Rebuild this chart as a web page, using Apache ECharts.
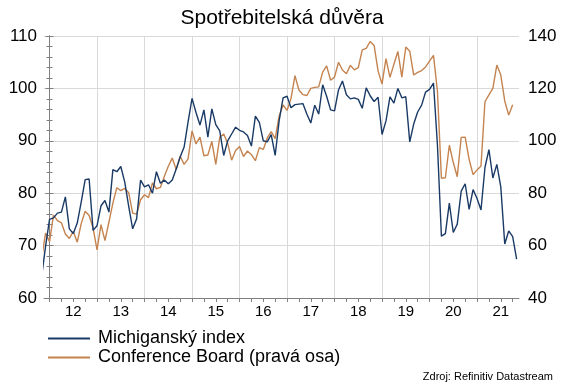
<!DOCTYPE html>
<html>
<head>
<meta charset="utf-8">
<script src="https://cdn.jsdelivr.net/npm/echarts@6/dist/echarts.min.js"></script>
<style>
html,body{margin:0;padding:0;background:#fff;}
#c{width:564px;height:385px;}
</style>
</head>
<body>
<div id="c"></div>
<script>
// Month index: Jan 2012 = 0. Series start at Nov 2011 (index -2).
const startIndex = -2;
// Michigan index, Nov 2011 .. Nov 2021
const michigan = [
  64.1, 69.9,
  75.0, 75.3, 76.2, 76.4, 79.3, 73.2, 72.3, 74.3, 78.3, 82.6, 82.7, 72.9,
  73.8, 77.6, 78.6, 76.4, 84.5, 84.1, 85.1, 82.1, 77.5, 73.2, 75.1, 82.5,
  81.2, 81.6, 80.0, 84.1, 81.9, 82.5, 81.8, 82.5, 84.6, 86.9, 88.8, 93.6,
  98.1, 95.4, 93.0, 95.9, 90.7, 96.1, 93.1, 91.9, 87.2, 90.0, 91.3, 92.6,
  92.0, 91.7, 91.0, 89.0, 94.7, 93.5, 90.0, 89.8, 91.2, 87.2, 93.8, 98.2,
  98.5, 96.3, 96.9, 97.0, 97.1, 95.1, 93.4, 96.8, 95.1, 100.7, 98.5, 95.9,
  95.7, 99.7, 101.4, 98.8, 98.0, 98.2, 97.9, 96.2, 100.1, 98.6, 97.5, 98.3,
  91.2, 93.8, 98.4, 97.2, 100.0, 98.2, 98.4, 89.8, 93.2, 95.5, 96.8, 99.3,
  99.8, 101.0, 89.1, 71.8, 72.3, 78.1, 72.5, 74.1, 80.4, 81.8, 76.9, 80.7,
  79.0, 76.8, 84.9, 88.3, 82.9, 85.5, 81.2, 70.3, 72.8, 71.7, 67.4
];
// Conference Board, Nov 2011 .. Oct 2021 (right axis)
const conferenceBoard = [
  55.2, 64.8,
  61.5, 71.6, 69.5, 68.7, 64.4, 62.7, 65.4, 61.3, 68.4, 73.1, 71.5, 66.7,
  58.4, 68.0, 61.9, 69.0, 76.2, 82.1, 81.0, 81.8, 80.2, 72.4, 72.0, 77.5,
  79.4, 78.3, 83.9, 81.7, 82.2, 86.4, 90.3, 93.4, 89.0, 94.1, 91.0, 93.1,
  103.8, 98.8, 101.4, 94.3, 94.6, 99.8, 91.0, 101.3, 102.6, 99.1, 92.6, 96.3,
  97.8, 94.0, 96.1, 94.7, 92.4, 97.4, 96.7, 101.1, 103.5, 100.8, 109.4, 113.7,
  111.6, 116.1, 124.9, 119.4, 117.6, 117.3, 120.0, 120.4, 120.6, 126.2, 128.6, 123.1,
  124.3, 130.0, 127.0, 125.6, 128.8, 127.1, 127.9, 134.7, 135.3, 137.9, 136.4, 126.6,
  121.7, 131.4, 124.2, 129.2, 134.1, 124.3, 135.8, 134.2, 125.1, 126.1, 126.8, 128.2,
  130.4, 132.6, 118.8, 85.7, 85.9, 98.3, 91.7, 86.3, 101.3, 101.4, 92.9, 87.1,
  88.9, 90.4, 114.9, 117.5, 120.0, 128.9, 125.1, 115.2, 109.8, 113.8
];
const yearLabels = ['12','13','14','15','16','17','18','19','20','21'];
const yearStarts = [12, 24, 36, 48, 60, 72, 84, 96, 108];       // Jan of 2013..2021
const yearCenters = [6, 18, 30, 42, 54, 66, 78, 90, 102, 114];  // mid-year label positions
const quarterTicks = [];
for (let m = 0; m <= 117; m += 3) quarterTicks.push(m);

const toPairs = arr => arr.map((v, i) => [startIndex + i, v]);

const FONT = 'Liberation Sans, Arial, sans-serif';
const BLUE = '#1a3a66';
const ORANGE = '#c4834f';
const AXIS = '#808080';
const GRID = '#d9d9d9';

const chart = echarts.init(document.getElementById('c'), null, {renderer: 'canvas'});
chart.setOption({
  animation: false,
  backgroundColor: '#fff',
  textStyle: {fontFamily: FONT},
  title: {
    text: 'Spotřebitelská důvěra',
    left: 'center',
    top: 3,
    textStyle: {fontSize: 21, fontWeight: 'normal', color: '#000', fontFamily: FONT}
  },
  grid: {left: 44, right: 45, top: 36, height: 262},
  legend: {
    orient: 'vertical',
    left: 48,
    top: 329,
    padding: 0,
    itemGap: 0,
    itemWidth: 42,
    itemHeight: 2,
    icon: 'rect',
    textStyle: {fontSize: 18, color: '#000', fontFamily: FONT, lineHeight: 19, padding: [0, 0, 0, 3]},
    data: ['Michiganský index', 'Conference Board (pravá osa)']
  },
  graphic: [{
    type: 'text',
    right: 11,
    top: 371,
    style: {text: 'Zdroj: Refinitiv Datastream', fontSize: 11, fill: '#000', fontFamily: FONT}
  }],
  xAxis: [{
    type: 'value',
    min: -1.4,
    max: 118.6,
    position: 'bottom',
    axisLine: {show: true, lineStyle: {color: AXIS, width: 1}},
    axisTick: {show: true, customValues: quarterTicks, length: 4, inside: false, lineStyle: {color: AXIS}},
    axisLabel: {
      customValues: yearCenters,
      formatter: v => yearLabels[Math.round((v - 6) / 12)],
      fontSize: 15, color: '#000', margin: 6, fontFamily: FONT
    },
    splitLine: {show: false}
  }, {
    type: 'value',
    min: -1.4,
    max: 118.6,
    position: 'bottom',
    axisLine: {show: false},
    axisTick: {show: false, customValues: yearStarts},
    axisLabel: {show: false},
    splitLine: {show: true, lineStyle: {color: GRID, width: 1}}
  }],
  yAxis: [{
    type: 'value',
    min: 60, max: 110, interval: 10,
    position: 'left',
    axisLine: {show: true, lineStyle: {color: AXIS}},
    axisTick: {show: true, length: 4, lineStyle: {color: AXIS}},
    minorTick: {show: true, splitNumber: 5, length: 3, lineStyle: {color: AXIS}},
    axisLabel: {fontSize: 17, color: '#000', margin: 7, fontFamily: FONT},
    splitLine: {show: true, lineStyle: {color: GRID, width: 1}}
  }, {
    type: 'value',
    min: 40, max: 140, interval: 20,
    position: 'right',
    axisLine: {show: true, lineStyle: {color: AXIS}},
    axisTick: {show: true, length: 4, lineStyle: {color: AXIS}},
    minorTick: {show: true, splitNumber: 5, length: 3, lineStyle: {color: AXIS}},
    axisLabel: {fontSize: 17, color: '#000', margin: 9, fontFamily: FONT},
    splitLine: {show: false}
  }],
  series: [{
    name: 'Michiganský index',
    type: 'line',
    xAxisIndex: 0, yAxisIndex: 0,
    data: toPairs(michigan),
    symbol: 'none',
    clip: true,
    color: BLUE,
    lineStyle: {color: BLUE, width: 1.4},
    z: 3
  }, {
    name: 'Conference Board (pravá osa)',
    type: 'line',
    xAxisIndex: 0, yAxisIndex: 1,
    data: toPairs(conferenceBoard),
    symbol: 'none',
    clip: true,
    color: ORANGE,
    lineStyle: {color: ORANGE, width: 1.4},
    z: 2
  }]
});
</script>
</body>
</html>
